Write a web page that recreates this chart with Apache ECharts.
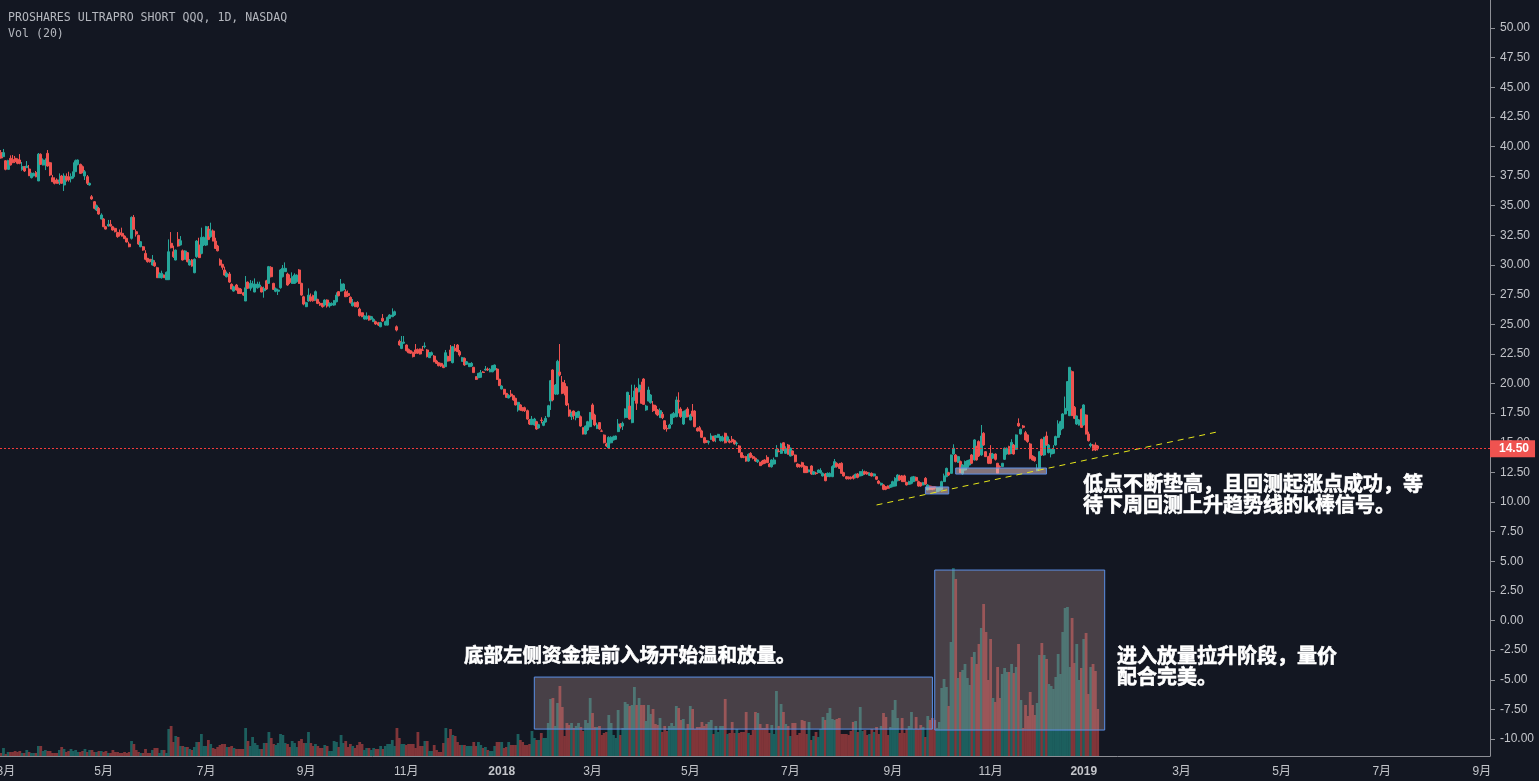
<!DOCTYPE html>
<html>
<head>
<meta charset="utf-8">
<title>SQQQ 1D</title>
<style>
	html, body { margin: 0; padding: 0; background: #131722; }
	#main { width: 1539px; height: 781px; }
</style>
<script src="https://cdn.jsdelivr.net/npm/echarts@6/dist/echarts.min.js"></script>
</head>
<body>
<div id="main"></div>
<script>
	// [open, close, low, high], one row per trading day
	var candles = [
		[39.48,39.03,38.97,39.70],[39.14,39.48,39.14,39.79],[38.80,38.07,37.99,38.85],[38.07,38.80,38.07,38.88],[39.00,38.44,38.40,39.25],
		[38.91,38.63,38.60,39.28],[39.00,38.72,38.60,39.20],[38.91,38.58,38.50,39.00],[38.86,38.58,38.50,39.36],[38.07,38.30,37.95,38.69],
		[38.30,37.93,37.85,38.35],[38.21,38.35,38.20,38.77],[38.10,37.54,37.50,38.44],[37.37,37.73,37.30,37.80],[37.51,37.73,37.50,37.80],
		[37.79,37.45,37.40,37.93],[37.09,39.36,37.09,39.45],[39.34,38.49,38.45,39.42],[38.44,38.86,38.40,39.00],[38.44,38.72,38.01,39.00],
		[39.42,38.35,38.30,39.70],[38.63,37.59,37.50,38.70],[37.37,37.03,37.00,37.60],[37.17,36.89,36.80,37.40],[37.17,36.89,36.85,37.31],
		[37.03,37.17,36.75,37.73],[37.51,36.89,36.85,37.60],[36.75,37.51,36.24,37.73],[37.45,37.17,37.03,37.73],[37.45,37.17,37.03,37.87],
		[37.28,37.45,36.97,37.73],[37.45,37.87,37.30,38.66],[37.87,38.80,37.87,38.90],[38.49,38.86,38.40,38.90],[38.49,37.73,37.70,38.55],
		[38.30,37.79,37.75,38.40],[37.51,37.87,37.17,38.01],[37.45,36.89,36.75,37.59],[36.75,36.89,36.70,36.95],[35.76,35.57,35.50,35.90],
		[35.34,34.78,34.70,35.40],[34.64,35.00,34.55,35.10],[34.78,34.30,34.25,34.90],[33.88,34.22,33.85,34.36],[33.88,33.23,33.20,33.95],
		[33.23,33.03,33.00,33.30],[33.29,33.43,33.25,33.80],[33.43,33.29,33.25,33.80],[33.23,32.95,32.90,33.30],[33.09,32.81,32.75,33.15],
		[32.73,32.39,32.30,32.80],[32.73,32.53,32.40,33.00],[32.67,32.44,32.40,33.15],[32.44,32.22,32.20,32.50],[32.25,31.94,31.90,32.30],
		[31.77,31.54,31.50,31.96],[32.25,34.02,32.15,34.10],[34.02,33.01,33.00,34.22],[32.81,32.61,32.40,33.00],[32.50,31.77,31.70,32.55],
		[31.54,31.97,31.50,32.00],[31.54,31.26,31.20,31.60],[30.98,30.48,30.40,31.25],[30.56,30.28,30.20,30.60],[30.48,30.28,30.20,30.50],
		[30.00,30.42,29.95,30.84],[30.20,29.92,29.85,30.40],[29.77,28.93,28.90,29.85],[28.93,29.21,28.90,29.38],[28.93,29.30,28.85,29.52],
		[29.15,28.93,28.90,29.20],[28.76,29.38,28.76,29.45],[28.76,31.12,28.76,32.16],[31.83,31.46,31.40,32.78],[31.12,30.70,30.60,31.63],
		[30.42,31.26,30.40,31.30],[32.16,31.60,31.55,32.78],[31.69,32.05,31.65,32.44],[31.20,30.42,30.38,31.30],[30.48,31.18,30.45,31.25],
		[31.04,30.28,30.22,31.10],[30.00,30.36,29.95,30.50],[30.42,29.92,29.85,30.50],[29.35,30.48,29.30,30.55],[30.70,32.02,30.60,32.10],
		[31.68,30.62,30.60,32.30],[30.98,32.33,30.90,33.15],[31.68,32.33,31.60,32.40],[31.68,33.23,31.60,33.30],[33.03,32.16,32.10,33.29],
		[32.39,32.89,32.30,33.57],[32.87,32.02,32.00,33.00],[32.02,31.40,31.35,32.30],[31.60,31.20,31.15,31.70],[30.42,30.00,29.95,30.56],
		[30.05,29.80,29.60,30.10],[29.58,29.15,29.10,29.86],[29.01,29.30,28.95,29.45],[29.24,28.56,28.50,29.40],[28.37,27.97,27.95,28.45],
		[27.80,28.17,27.75,28.25],[28.31,27.89,27.85,28.40],[28.03,27.60,27.55,28.10],[27.97,27.60,27.55,28.05],[27.66,27.46,27.40,27.70],
		[26.96,28.08,26.96,29.07],[28.56,28.03,28.00,28.60],[28.03,28.45,27.83,28.73],[28.17,28.39,28.10,28.67],[27.72,28.39,27.70,28.87],
		[28.08,28.39,28.00,28.59],[28.17,28.31,28.10,28.59],[28.11,27.72,27.70,28.20],[27.83,28.00,27.24,28.17],[28.67,27.97,27.90,28.75],
		[28.45,29.86,28.40,29.92],[29.80,29.01,28.95,29.90],[28.45,27.94,27.90,28.50],[27.78,28.00,27.70,28.10],[27.78,27.89,27.47,28.00],
		[28.08,29.58,28.00,29.65],[29.01,29.72,28.95,30.00],[29.44,29.72,29.40,30.22],[29.24,28.31,28.25,29.35],[28.87,28.53,28.40,29.20],
		[28.45,29.01,28.40,29.38],[28.45,29.15,28.40,29.30],[28.59,29.15,28.50,29.20],[29.58,28.45,28.40,29.65],[28.45,27.46,27.40,28.50],
		[27.32,26.70,26.60,27.40],[26.48,26.82,26.45,26.90],[26.96,27.46,26.90,28.03],[27.32,26.99,26.90,27.60],[27.41,26.99,26.90,27.50],
		[27.04,27.75,27.00,27.85],[27.10,26.76,26.70,27.15],[26.76,26.62,26.55,26.90],[26.76,26.48,26.40,26.80],[26.62,27.04,26.50,27.10],
		[27.04,26.54,26.40,27.10],[26.54,26.76,26.40,26.85],[26.62,26.76,26.55,26.85],[26.62,26.99,26.55,27.05],[26.90,27.46,26.85,27.69],
		[27.75,27.41,27.35,27.80],[27.80,28.39,27.75,28.82],[27.89,28.39,27.85,28.45],[27.75,27.32,27.30,27.95],[27.60,27.41,27.30,27.85],
		[27.27,26.82,26.75,27.35],[26.56,26.82,26.50,27.13],[26.82,26.48,26.45,26.90],[26.85,26.48,26.40,26.95],[26.28,25.72,25.65,26.40],
		[25.97,25.64,25.60,26.00],[25.44,25.69,25.40,25.75],[25.44,25.69,25.40,26.00],[25.69,25.36,25.30,25.75],[25.44,25.64,25.40,25.70],
		[25.22,25.41,25.20,25.50],[25.22,25.02,24.95,25.30],[25.13,24.93,24.85,25.20],[24.79,25.13,24.75,25.20],[25.50,25.27,25.20,25.86],
		[24.93,25.22,24.90,25.30],[24.93,25.58,24.90,25.65],[25.50,25.78,25.45,25.85],[25.64,25.78,25.60,26.34],[25.78,26.06,25.70,26.15],
		[24.79,24.51,24.40,24.90],[23.56,23.25,23.20,23.70],[22.96,23.45,22.90,24.01],[23.40,23.50,23.36,24.01],[23.25,22.77,22.70,23.30],
		[22.88,22.60,22.55,22.95],[22.77,22.55,22.50,22.80],[22.63,22.27,22.20,22.70],[22.83,22.60,22.50,23.33],[22.88,22.55,22.50,22.95],
		[22.91,22.49,22.45,22.95],[22.83,22.80,22.75,23.17],[23.11,23.17,22.97,23.47],[22.83,22.27,22.20,22.90],[22.18,22.60,22.15,22.65],
		[22.41,22.60,22.35,22.70],[22.32,21.84,21.80,22.40],[21.90,21.70,21.65,22.00],[21.76,21.50,21.45,21.80],[21.70,21.48,21.40,21.75],
		[21.50,21.34,21.30,21.60],[21.42,22.60,21.40,22.83],[22.27,21.90,21.85,22.35],[22.83,21.93,21.90,23.25],[21.76,23.11,21.70,23.17],
		[22.97,22.77,22.70,23.33],[23.25,22.69,22.65,23.33],[22.69,22.41,22.27,22.83],[21.87,22.18,21.85,22.25],[22.12,21.56,21.50,22.20],
		[21.62,21.84,21.60,21.90],[21.42,21.70,21.40,21.75],[21.48,21.70,21.40,21.80],[21.37,20.92,20.90,21.40],[20.58,20.35,20.30,20.60],
		[20.49,20.86,20.45,20.90],[20.52,20.92,20.50,21.14],[20.97,20.93,20.90,21.05],[21.14,21.22,21.08,21.48],[21.22,21.14,21.05,21.35],
		[20.99,21.20,20.95,21.30],[20.99,21.50,20.95,21.55],[21.14,21.56,21.10,21.60],[21.22,20.35,20.30,21.30],[20.35,19.82,19.80,20.40],
		[19.54,19.79,19.50,19.85],[19.51,19.11,19.05,19.55],[19.17,18.83,18.80,19.20],[18.78,19.00,18.75,19.10],[19.11,18.95,18.85,19.45],
		[18.97,18.61,18.55,19.00],[18.75,18.19,18.15,18.80],[17.77,18.41,17.62,18.45],[18.19,17.77,17.70,18.25],[17.96,17.71,17.65,18.00],
		[17.96,17.71,17.60,18.05],[17.71,17.00,16.95,17.80],[16.92,16.58,16.50,17.00],[16.53,17.00,16.50,17.26],[16.50,17.00,16.45,17.10],
		[16.78,16.16,16.10,16.85],[16.25,16.53,16.20,16.60],[16.92,16.88,16.64,17.15],[16.47,16.75,16.40,16.85],[16.75,17.06,16.70,17.26],
		[17.20,18.13,17.15,18.20],[18.52,20.24,17.77,20.30],[21.14,18.61,18.50,21.20],[19.11,19.87,19.05,19.95],[19.11,21.87,19.05,22.00],
		[20.97,20.72,20.60,23.33],[20.10,19.17,19.10,20.63],[20.00,19.54,19.00,20.30],[19.73,18.19,18.10,19.80],[17.77,17.26,17.20,18.33],
		[17.20,17.48,16.92,17.63],[17.68,17.29,16.98,17.72],[17.12,17.54,16.90,17.60],[17.20,17.63,17.10,17.70],[17.20,16.41,16.35,17.30],
		[16.27,15.74,15.70,16.30],[15.74,16.41,15.70,16.45],[16.08,16.78,16.00,16.85],[16.36,17.54,16.30,17.60],[18.19,17.00,16.95,18.33],
		[17.34,16.50,16.40,17.45],[16.22,16.50,16.15,16.70],[16.70,16.16,16.10,16.75],[16.00,15.97,15.92,16.13],[15.65,15.00,14.95,15.70],
		[14.90,14.73,14.65,15.00],[14.56,15.46,14.50,15.55],[15.00,15.46,14.95,15.55],[15.23,15.50,15.20,15.60],[15.29,15.57,15.25,15.60],
		[15.94,16.58,15.90,17.00],[16.58,16.36,16.20,16.65],[16.41,16.64,16.08,16.78],[17.15,17.85,17.05,17.90],[17.15,19.26,17.10,19.30],
		[18.10,17.00,16.95,19.03],[16.70,18.80,16.65,19.90],[18.61,19.37,18.55,19.90],[19.59,18.33,17.77,19.70],[19.31,19.87,19.25,20.44],
		[19.45,18.33,18.30,20.15],[20.38,18.24,18.20,20.45],[17.77,18.10,17.70,18.20],[18.52,19.45,18.50,19.73],[18.38,19.03,18.30,19.10],
		[18.19,17.71,17.60,18.52],[18.10,17.77,17.40,18.20],[17.77,17.34,17.25,17.85],[17.12,17.71,17.10,17.90],[17.40,17.12,17.00,17.60],
		[16.86,16.16,16.10,16.90],[16.22,16.18,15.94,16.50],[16.22,16.50,16.15,16.60],[16.58,17.40,16.50,17.45],[17.15,17.48,17.10,17.60],
		[17.20,18.61,17.15,18.90],[18.54,18.50,17.48,19.26],[17.85,17.20,17.10,18.00],[16.58,17.63,16.50,17.70],[17.15,17.71,17.10,17.80],
		[17.85,17.20,17.15,18.00],[16.92,17.34,16.90,17.45],[17.68,17.29,17.20,18.27],[17.68,16.36,16.30,17.75],[16.22,16.00,15.95,16.30],
		[16.27,16.02,15.95,16.42],[16.00,15.46,15.40,16.10],[15.43,15.00,14.95,15.50],[15.18,15.04,15.00,15.20],[15.05,15.10,14.85,15.20],
		[15.29,15.57,15.25,15.80],[15.52,15.15,15.10,15.60],[15.43,15.60,15.05,15.65],[15.46,15.71,15.40,15.75],[15.18,15.52,15.10,15.55],
		[15.18,15.46,15.10,15.60],[15.80,15.00,14.95,15.85],[15.18,15.50,15.10,15.60],[15.15,15.04,14.95,15.30],[15.29,15.09,15.00,15.57],
		[15.18,14.90,14.85,15.25],[14.94,14.98,14.75,15.10],[14.73,14.20,14.15,14.80],[14.16,13.77,13.70,14.20],[13.83,13.77,13.70,13.95],
		[13.83,13.46,13.40,13.90],[13.46,14.02,13.40,14.10],[14.11,13.77,13.70,14.20],[13.83,13.69,13.60,13.95],[13.69,13.46,13.40,13.75],
		[13.40,13.55,13.30,13.60],[13.35,13.07,13.05,13.40],[13.46,13.21,13.15,13.55],[13.55,13.27,13.20,13.60],[13.77,13.32,13.30,13.95],
		[13.21,12.98,12.95,13.30],[12.98,13.55,12.90,13.60],[13.21,13.55,13.15,13.75],[13.83,14.45,13.80,14.80],[14.30,14.25,14.20,14.50],
		[14.11,14.90,14.05,15.00],[15.00,14.39,14.30,15.05],[14.11,14.53,14.05,14.70],[14.81,14.03,14.00,14.90],[13.88,14.53,13.85,14.60],
		[14.31,13.97,13.90,14.35],[13.97,13.40,13.35,14.00],[13.21,12.98,12.90,13.25],[13.13,12.99,12.90,13.20],[13.32,12.98,12.90,13.40],
		[13.04,12.48,12.45,13.10],[12.99,12.48,12.45,13.05],[12.56,12.70,12.50,12.75],[13.04,12.37,12.30,13.10],[12.34,12.56,12.30,12.60],
		[12.45,12.40,12.30,12.55],[12.48,12.70,12.45,12.75],[12.48,12.65,12.40,12.85],[12.20,12.42,12.15,12.50],[12.37,11.80,11.75,12.45],
		[12.20,12.42,12.10,12.50],[12.14,12.42,12.10,12.50],[12.14,12.99,12.10,13.10],[12.93,13.41,12.90,13.63],[13.27,12.99,12.90,13.35],
		[13.21,12.84,12.80,13.30],[13.27,12.42,12.40,13.35],[12.48,12.20,12.15,12.55],[12.14,11.97,11.90,12.20],[12.11,11.97,11.90,12.15],
		[12.11,11.97,11.90,12.15],[12.20,12.00,11.90,12.30],[12.08,12.34,12.00,12.40],[12.37,12.08,12.00,12.45],[12.20,12.56,12.15,12.60],
		[12.28,12.56,12.20,12.76],[12.56,12.37,12.30,12.65],[12.50,12.37,12.30,12.60],[12.25,12.42,12.20,12.50],[12.42,12.20,12.15,12.50],
		[12.20,12.37,12.15,12.42],[12.14,11.92,11.85,12.20],[11.77,11.58,11.50,11.85],[11.44,11.58,11.40,11.65],[11.44,11.07,11.00,11.50],
		[11.30,11.07,11.00,11.35],[11.35,11.16,11.10,11.40],[11.24,11.44,11.20,11.50],[11.30,11.72,11.25,11.80],[11.35,12.00,11.30,12.10],
		[11.80,12.28,11.75,12.35],[12.20,11.86,11.80,12.30],[12.20,11.72,11.70,12.28],[12.20,11.72,11.70,12.30],[11.66,11.44,11.40,11.70],
		[11.50,11.72,11.45,11.80],[11.58,12.08,11.50,12.15],[11.72,12.14,11.70,12.20],[12.08,11.80,11.75,12.15],[11.72,11.35,11.30,11.80],
		[11.63,11.35,11.30,11.68],[11.44,11.63,11.40,11.70],[12.00,11.52,11.45,12.10],[11.02,11.44,11.00,11.50],[11.35,11.07,11.00,11.40],
		[11.30,11.07,11.00,11.35],[11.30,11.16,11.05,11.35],[10.87,11.24,10.80,11.30],[10.96,11.24,10.90,11.30],[11.07,11.72,11.00,11.80],
		[11.72,12.20,11.70,12.40],[12.14,12.84,12.10,12.90],[12.48,12.28,12.20,12.55],[12.42,13.97,12.40,14.00],[14.05,14.53,14.00,14.87],
		[13.97,13.41,13.35,14.05],[13.35,13.83,13.30,13.90],[13.41,12.48,12.45,13.50],[12.37,13.13,12.30,13.20],[12.70,13.41,12.65,13.50],
		[12.93,13.49,12.90,13.55],[13.13,13.55,13.10,13.60],[13.97,13.27,13.20,14.05],[13.55,15.24,13.50,15.30],[14.67,13.55,13.50,14.75],
		[15.10,13.88,13.80,15.20],[13.97,15.57,13.90,16.50],[15.80,14.81,14.75,15.90],[14.25,13.83,13.80,14.30],[13.83,13.27,13.20,13.90],
		[14.11,13.27,13.20,14.80],[13.69,14.05,13.65,14.15],[14.05,13.60,13.50,14.10],[13.27,12.42,12.40,13.30],[12.99,12.95,12.90,13.10],
		[12.99,13.27,12.95,13.30],[13.60,14.53,13.55,14.60],[14.05,14.53,14.00,14.60],[14.67,14.05,14.00,14.75],[14.11,15.03,14.05,15.30],
		[14.81,14.05,14.00,14.90],[14.45,15.66,14.40,15.70],[16.64,16.42,16.35,17.06],[15.74,16.14,15.70,16.20],[16.42,16.30,16.20,16.50],
		[15.85,15.24,15.20,16.00],[15.66,15.10,15.00,15.70],[14.90,13.69,13.60,15.00],[13.88,13.55,13.50,13.95],[13.77,13.49,13.40,13.85],
		[12.65,12.84,12.60,13.20],[12.84,14.25,12.80,14.30],[15.29,13.97,13.90,15.35],[13.97,15.46,13.90,15.50],[15.57,14.81,14.75,15.94],
		[14.17,14.81,14.10,14.90],[14.05,14.45,13.77,14.50],[14.11,14.45,14.05,14.80],[14.81,15.52,14.75,15.60],[15.46,16.58,15.40,16.90],
		[16.08,16.78,15.65,16.85],[16.22,17.43,16.15,17.50],[17.43,17.90,17.40,18.90],[17.77,20.16,17.70,20.20],[17.29,21.37,17.25,21.37],
		[21.00,17.29,17.25,21.10],[17.99,17.06,17.00,18.10],[16.58,17.26,16.50,17.30],[16.50,16.92,16.45,17.00],[17.82,16.30,16.25,17.90],
		[16.50,18.19,16.45,18.25],[17.34,15.74,15.70,17.40],[15.74,15.18,15.10,15.94],[14.76,14.87,14.60,15.00],[14.81,14.39,14.30,14.90],
		[14.81,14.39,14.30,15.03],[14.73,14.50,14.35,14.80]
	];

	// volume, relative units
	var volumes = [
		3,8,2,4,4,4,5,4,5,3, 3,6,4,3,3,3,10,10,5,6, 5,5,3,3,3,6,9,7,4,5, 7,5,6,4,4,5,7,4,6,6,
		4,4,5,5,4,5,3,3,6,4, 4,3,3,4,3,4,15,12,6,4, 3,3,7,3,3,6,8,8,3,6, 6,3,27,30,14,20,19,10,10,9,
		9,7,6,9,14,14,22,10,10,16, 12,8,7,9,11,12,12,9,9,10, 8,7,7,7,7,28,15,10,19,13, 11,7,7,13,13,24,18,12,11,13,
		22,21,13,12,9,15,13,9,15,17, 13,13,24,13,10,12,10,8,8,11, 10,5,5,15,14,9,21,13,15,9, 12,10,8,11,14,12,6,8,8,6,
		8,7,7,10,7,10,12,12,16,10, 28,18,12,12,11,12,12,12,8,24, 10,10,15,15,5,5,11,6,4,4, 13,28,18,27,21,20,14,11,11,11,
		10,10,10,14,10,14,11,8,9,6, 5,5,10,14,14,14,8,9,14,11, 11,11,22,
		16,14,11,11,12,25,18,16,16,23, 18,18,33,57,58,30,53,70,49,20, 33,31,33,28,30,33,29,25,36,33,
		58,43,29,29,30,21,23,24,41,33, 21,18,46,21,28,54,52,50,51,69, 51,58,51,51,35,51,42,47,32,31,
		38,24,30,25,30,33,30,50,48,36, 37,27,32,50,47,27,29,29,34,30, 32,34,36,22,30,24,30,30,57,22,
		23,34,23,27,23,24,24,44,23,21, 26,44,43,32,28,28,32,23,31,22, 65,30,52,44,32,30,20,33,33,21,
		23,36,35,22,34,16,20,24,19,27, 39,36,43,48,37,36,37,38,22,22, 22,21,25,34,35,24,49,25,26,21,
		22,27,24,29,22,30,43,39,21,29, 46,56,38,23,38,23,27,30,44,27, 39,27,31,29,19,40,36,38,36,28,
		34,68,77,69,50,114,188,177,78,84, 86,92,78,71,99,104,92,112,128,152, 124,76,117,58,54,89,58,82,88,84,
		84,92,83,89,112,56,28,51,40,64, 51,41,53,101,113,101,97,72,70,67, 79,102,82,124,148,149,89,138,93,112,
		76,88,117,123,62,89,92,85,47
	];

	var slotCount = 640;
	var tickIndex = [2, 44, 88, 131, 174, 215, 254, 296, 339, 383, 425, 465, 507, 550, 593, 636];
	var tickLabels = ['3月', '5月', '7月', '9月', '11月', '2018', '3月', '5月', '7月', '9月', '11月', '2019', '3月', '5月', '7月', '9月'];
	var priceTicks = [-10, -7.5, -5, -2.5, 0, 2.5, 5, 7.5, 10, 12.5, 15, 17.5, 20, 22.5, 25, 27.5, 30, 32.5, 35, 37.5, 40, 42.5, 45, 47.5, 50];
	var lastPrice = 14.5;

	var upColor = '#26a69a';
	var downColor = '#ef5350';
	// the volume colours mixed 50% into the background, opaque so neighbours can touch
	var volUpColor = '#1c5f5e';
	var volDownColor = '#813539';

	var categories = [];
	for (var i = 0; i < slotCount; i++) {
		categories.push(String(i));
	}

	var volumeBars = volumes.map(function(v, i) {
		var up = candles[i][1] >= candles[i][0];
		return { value: v, itemStyle: { color: up ? volUpColor : volDownColor } };
	});

	function box(x0, x1, top, bottom, fill) {
		return [
			{ xAxis: x0, yAxis: top, itemStyle: { color: fill, borderColor: '#5b8fe6', borderWidth: 1 } },
			{ xAxis: x1, yAxis: bottom }
		];
	}

	var chart = echarts.init(document.getElementById('main'));
	chart.setOption({
		animation: false,
		backgroundColor: '#131722',
		grid: { left: 0, top: 0, width: 1490, height: 756, outerBoundsMode: 'none' },
		xAxis: {
			type: 'category',
			data: categories,
			boundaryGap: true,
			axisLine: { onZero: false, lineStyle: { color: '#8d8f96', width: 1 } },
			axisTick: {
				alignWithLabel: true,
				length: 5,
				lineStyle: { color: '#8d8f96' },
				interval: function(i) { return tickIndex.indexOf(i) >= 0; }
			},
			axisLabel: {
				color: '#c3c5ca',
				fontSize: 12,
				margin: 10,
				fontFamily: 'Liberation Sans, Noto Sans CJK SC',
				hideOverlap: false,
				interval: function(i) { return tickIndex.indexOf(i) >= 0; },
				formatter: function(v, i) {
					var label = tickLabels[tickIndex.indexOf(i)] || '';
					return label.length === 4 ? '{year|' + label + '}' : label;
				},
				rich: { year: { fontWeight: 'bold', fontSize: 12, color: '#c3c5ca', fontFamily: 'Liberation Sans' } }
			},
			splitLine: { show: false }
		},
		yAxis: [{
			type: 'value',
			position: 'right',
			min: -11.43,
			max: 52.36,
			axisLine: { show: true, lineStyle: { color: '#8d8f96', width: 1 } },
			axisTick: { show: true, length: 5, lineStyle: { color: '#8d8f96' }, customValues: priceTicks },
			axisLabel: {
				color: '#c3c5ca',
				fontSize: 12,
				margin: 10,
				fontFamily: 'Liberation Sans',
				customValues: priceTicks,
				formatter: function(v) { return v.toFixed(2); }
			},
			splitLine: { show: false }
		}, {
			type: 'value',
			show: false,
			min: 0,
			max: 756,
			splitLine: { show: false }
		}],
		series: [{
			name: 'Vol',
			type: 'bar',
			yAxisIndex: 1,
			barWidth: 2.8,
			data: volumeBars,
			silent: true,
			z: 1
		}, {
			name: 'SQQQ',
			type: 'candlestick',
			yAxisIndex: 0,
			barWidth: 2.5,
			data: candles,
			silent: true,
			z: 3,
			itemStyle: {
				color: upColor,
				color0: downColor,
				borderColor: upColor,
				borderColor0: downColor,
				borderWidth: 1
			},
			markArea: {
				silent: true,
				z: 4,
				data: [
					box(229, 400, -4.77, -9.16, 'rgba(231,187,182,0.25)'),
					box(401, 474, 4.26, -9.24, 'rgba(231,187,182,0.25)'),
					box(397, 407, 11.27, 10.68, 'rgba(226,193,194,0.55)'),
					box(410, 449, 12.87, 12.36, 'rgba(226,193,194,0.55)')
				]
			},
			markLine: {
				silent: true,
				symbol: 'none',
				z: 5,
				data: [
					[
						{ xAxis: 376, yAxis: 9.75, lineStyle: { color: '#e6e619', width: 1, type: [6, 5] } },
						{ xAxis: 522, yAxis: 15.9 }
					],
					{
						yAxis: lastPrice,
						lineStyle: { color: '#f23b3b', width: 1, type: [2, 2] },
						label: {
							show: true,
							position: 'end',
							distance: 0,
							formatter: lastPrice.toFixed(2),
							color: '#fff',
							fontWeight: 'bold',
							fontSize: 12,
							fontFamily: 'Liberation Sans',
							backgroundColor: '#ef5350',
							padding: [3, 6, 2, 9]
						}
					}
				],
				label: { show: false }
			}
		}],
		graphic: [
			{ type: 'text', z: 20, style: { x: 8, y: 12, text: 'PROSHARES ULTRAPRO SHORT QQQ, 1D, NASDAQ', fill: '#b4b7be', font: '11.6px "DejaVu Sans Mono"' } },
			{ type: 'text', z: 20, style: { x: 8, y: 28, text: 'Vol (20)', fill: '#b4b7be', font: '11.6px "DejaVu Sans Mono"' } },
			{ type: 'text', z: 20, style: { x: 1083, y: 473, text: '低点不断垫高，且回测起涨点成功，等\n待下周回测上升趋势线的k棒信号。', fill: '#fff', stroke: '#fff', lineWidth: 0.6, lineHeight: 21, font: 'bold 20px "Noto Sans CJK SC"' } },
			{ type: 'text', z: 20, style: { x: 464, y: 644, text: '底部左侧资金提前入场开始温和放量。', fill: '#fff', stroke: '#fff', lineWidth: 0.6, lineHeight: 21, font: 'bold 19.5px "Noto Sans CJK SC"' } },
			{ type: 'text', z: 20, style: { x: 1117, y: 645, text: '进入放量拉升阶段，量价\n配合完美。', fill: '#fff', stroke: '#fff', lineWidth: 0.6, lineHeight: 21, font: 'bold 20px "Noto Sans CJK SC"' } }
		]
	});
</script>
</body>
</html>
